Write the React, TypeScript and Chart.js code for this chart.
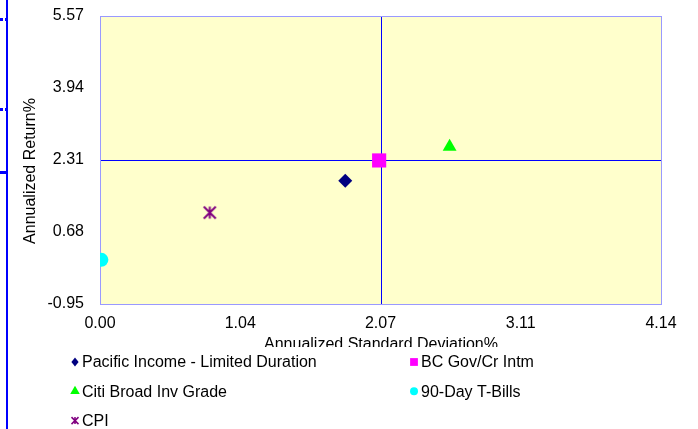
import React, { useEffect, useRef } from 'react';
import { Chart, registerables } from 'chart.js';

Chart.register(...registerables);

// ---- Data ----
const seriesNames = [
  'Pacific Income - Limited Duration',
  'BC Gov/Cr Intm',
  'Citi Broad Inv Grade',
  '90-Day T-Bills',
  'CPI',
];
const stdDevValues = [1.81, 2.06, 2.58, 0.01, 0.81];
const returnValues = [1.84, 2.3, 2.61, 0.05, 1.12];

const xTickValues = [0, 1.035, 2.07, 3.105, 4.14];
const xTickLabels = ['0.00', '1.04', '2.07', '3.11', '4.14'];
const yTickValues = [-0.95, 0.68, 2.31, 3.94, 5.57];
const yTickLabels = ['-0.95', '0.68', '2.31', '3.94', '5.57'];

const crossX = 2.07;
const crossY = 2.31;

const xTitle = 'Annualized Standard Deviation%';
const yTitle = 'Annualized Return%';

// ---- Styles ----
const colors = ['#000080', '#FF00FF', '#00FF00', '#00FFFF', '#800080'];
const markerStyles = ['rectRot', 'rect', 'triangle', 'circle', 'star'];
const markerRadius = [7, 10, 8, 7, 7];
const legendRadius = [4.5, 5.5, 5.5, 4, 3.5];
const FONT = "'Liberation Sans', Arial, Helvetica, sans-serif";

function drawStarPath(ctx: CanvasRenderingContext2D, x: number, y: number, r: number) {
  ctx.beginPath();
  ctx.moveTo(x - r, y - r);
  ctx.lineTo(x + r, y + r);
  ctx.moveTo(x + r, y - r);
  ctx.lineTo(x - r, y + r);
  ctx.moveTo(x, y - r);
  ctx.lineTo(x, y + r);
  ctx.stroke();
}

function makeStarImage(color: string, size: number) {
  const c = document.createElement('canvas');
  c.width = size;
  c.height = size;
  const ctx = c.getContext('2d')!;
  ctx.strokeStyle = color;
  ctx.lineWidth = 2;
  drawStarPath(ctx, size / 2, size / 2, size / 2 - 1.5);
  return c;
}

function drawMarker(ctx: CanvasRenderingContext2D, style: string, x: number, y: number, r: number, color: string) {
  ctx.save();
  ctx.fillStyle = color;
  ctx.strokeStyle = color;
  if (style === 'rectRot') {
    ctx.beginPath();
    ctx.moveTo(x, y - r);
    ctx.lineTo(x + r * 0.8, y);
    ctx.lineTo(x, y + r);
    ctx.lineTo(x - r * 0.8, y);
    ctx.closePath();
    ctx.fill();
  } else if (style === 'rect') {
    const h = r * Math.SQRT1_2;
    ctx.fillRect(x - h, y - h, 2 * h, 2 * h);
  } else if (style === 'triangle') {
    ctx.beginPath();
    ctx.moveTo(x, y - r);
    ctx.lineTo(x + r * 0.866, y + r * 0.5);
    ctx.lineTo(x - r * 0.866, y + r * 0.5);
    ctx.closePath();
    ctx.fill();
  } else if (style === 'circle') {
    ctx.beginPath();
    ctx.arc(x, y, r, 0, Math.PI * 2);
    ctx.fill();
  } else {
    ctx.lineWidth = 1.5;
    drawStarPath(ctx, x, y, r);
  }
  ctx.restore();
}

const decorPlugin = {
  id: 'decor',
  beforeDraw(chart: any) {
    const { ctx, chartArea: a, scales } = chart;
    ctx.save();
    ctx.fillStyle = '#FFFFCC';
    ctx.fillRect(a.left, a.top, a.right - a.left, a.bottom - a.top);
    const px = Math.round(scales.x.getPixelForValue(crossX)) + 0.5;
    const py = Math.round(scales.y.getPixelForValue(crossY)) + 0.5;
    ctx.strokeStyle = '#0000FF';
    ctx.lineWidth = 1;
    ctx.beginPath();
    ctx.moveTo(px, a.top);
    ctx.lineTo(px, a.bottom);
    ctx.moveTo(a.left, py);
    ctx.lineTo(a.right, py);
    ctx.stroke();
    ctx.strokeStyle = '#9999FF';
    ctx.strokeRect(Math.round(a.left) + 0.5, Math.round(a.top) + 0.5, Math.round(a.right - a.left), Math.round(a.bottom - a.top));
    ctx.restore();
  },
  afterDraw(chart: any) {
    const { ctx } = chart;
    ctx.save();
    // y title
    ctx.fillStyle = '#000';
    ctx.font = `16px ${FONT}`;
    ctx.textAlign = 'center';
    ctx.textBaseline = 'middle';
    ctx.save();
    ctx.translate(31, 171);
    ctx.rotate(-Math.PI / 2);
    ctx.fillText(yTitle, 0, 0);
    ctx.restore();
    // x title (partly hidden by legend box)
    ctx.save();
    ctx.beginPath();
    ctx.rect(0, 0, 698, 347);
    ctx.clip();
    ctx.textBaseline = 'alphabetic';
    ctx.fillText(xTitle, 381, 349);
    ctx.restore();
    // legend
    ctx.textAlign = 'left';
    ctx.textBaseline = 'middle';
    seriesNames.forEach((name, i) => {
      const col = i % 2;
      const row = Math.floor(i / 2);
      const mx = col === 0 ? 75 : 414;
      const tx = col === 0 ? 82 : 421;
      const y = 362 + row * 29.3;
      drawMarker(ctx, markerStyles[i], mx, y, legendRadius[i], colors[i]);
      ctx.fillStyle = '#000';
      ctx.fillText(name, tx, y + 1);
    });
    // left edge decoration
    ctx.fillStyle = '#0000FF';
    ctx.fillRect(6, 0, 2, 429);
    ctx.fillRect(0, 18, 3, 3);
    ctx.fillRect(5, 18, 1, 3);
    ctx.fillRect(0, 108, 3, 3);
    ctx.fillRect(5, 108, 1, 3);
    ctx.fillRect(0, 171, 6, 3);
    ctx.restore();
  },
};

export default function App() {
  const ref = useRef<HTMLCanvasElement | null>(null);
  useEffect(() => {
    if (!ref.current) return;
    const starImg = makeStarImage(colors[4], 15);
    const datasets = seriesNames.map((name, i) => ({
      label: name,
      data: [{ x: stdDevValues[i], y: returnValues[i] }],
      pointStyle: markerStyles[i] === 'star' ? (starImg as any) : markerStyles[i],
      pointRadius: markerRadius[i],
      backgroundColor: colors[i],
      borderColor: colors[i],
      borderWidth: 0,
    }));
    const chart = new Chart(ref.current, {
      type: 'scatter',
      data: { datasets },
      options: {
        responsive: false,
        animation: false,
        events: [],
        layout: { padding: { left: 0, top: 16, right: 37, bottom: 0 } },
        plugins: { legend: { display: false }, tooltip: { enabled: false } },
        scales: {
          x: {
            type: 'linear',
            min: xTickValues[0],
            max: xTickValues[xTickValues.length - 1],
            afterFit: (s: any) => { s.height = 125; s.paddingLeft = 0; s.paddingRight = 0; },
            afterBuildTicks: (s: any) => { s.ticks = xTickValues.map((v) => ({ value: v })); },
            grid: { display: false, drawTicks: false },
            border: { display: false },
            ticks: {
              padding: 10,
              color: '#000',
              font: { family: FONT, size: 16 },
              maxRotation: 0,
              autoSkip: false,
              callback: (_v: any, idx: number) => xTickLabels[idx],
            },
          },
          y: {
            type: 'linear',
            min: yTickValues[0],
            max: yTickValues[yTickValues.length - 1],
            afterFit: (s: any) => { s.width = 100; s.paddingTop = 0; s.paddingBottom = 0; },
            afterBuildTicks: (s: any) => { s.ticks = yTickValues.map((v) => ({ value: v })); },
            grid: { display: false, drawTicks: false },
            border: { display: false },
            ticks: {
              padding: 16,
              color: '#000',
              font: { family: FONT, size: 16 },
              autoSkip: false,
              callback: (_v: any, idx: number) => yTickLabels[idx],
            },
          },
        },
      },
      plugins: [decorPlugin],
    });
    return () => chart.destroy();
  }, []);
  return (
    <div style={{ position: 'absolute', left: 0, top: 0, width: 698, height: 429, background: '#fff' }}>
      <canvas ref={ref} width={698} height={429} style={{ width: 698, height: 429, display: 'block' }} />
    </div>
  );
}
